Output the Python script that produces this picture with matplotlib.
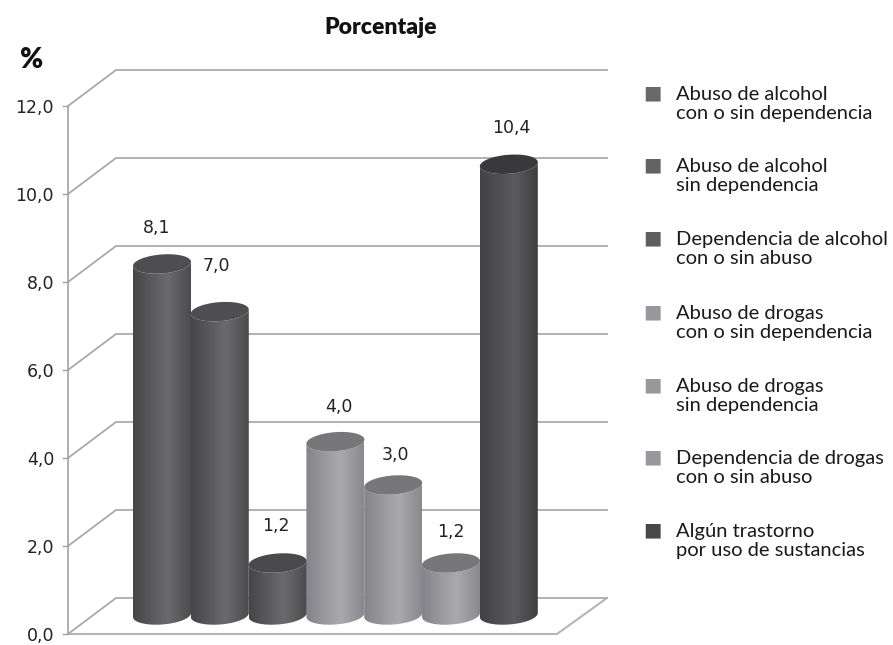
import matplotlib.pyplot as plt
import numpy as np
from matplotlib.colors import LinearSegmentedColormap
from matplotlib.patches import Polygon

plt.rcParams['font.family'] = ['Lato', 'DejaVu Sans']

values = [8.1, 7.0, 1.2, 4.0, 3.0, 1.2, 10.4]
value_labels = ['8,1', '7,0', '1,2', '4,0', '3,0', '1,2', '10,4']
ticks = [0, 2, 4, 6, 8, 10, 12]
tick_labels = ['0,0', '2,0', '4,0', '6,0', '8,0', '10,0', '12,0']
legend_labels = [
    'Abuso de alcohol\ncon o sin dependencia',
    'Abuso de alcohol\nsin dependencia',
    'Dependencia de alcohol\ncon o sin abuso',
    'Abuso de drogas\ncon o sin dependencia',
    'Abuso de drogas\nsin dependencia',
    'Dependencia de drogas\ncon o sin abuso',
    'Algún trastorno\npor uso de sustancias',
]

W, H = 893, 645
PX = 44.0  # pixels per unit on the y axis
DEPTH_X, DEPTH_Y = 48, 36 / PX
FLOOR_R = 557
GRID = '#a3a3a3'

dark = ['#464648', '#6b6b6d', '#4c4c4e']
light = ['#84848a', '#aaaaae', '#8a8a8e']
darkest = ['#424244', '#5b5b5d', '#3f3f41']
bar_grads = [dark, dark, dark, light, light, light, darkest]
top_colors = ['#4e4e50', '#4e4e50', '#4a4a4c', '#77777a', '#77777a', '#77777a', '#39393b']
legend_colors = ['#69696b', '#636365', '#5e5e60', '#98989c', '#98989c', '#98989c', '#48484a']

fig = plt.figure(figsize=(W / 100, H / 100), dpi=100)
ax = fig.add_axes([68 / W, (H - 634) / H, (W - 68) / W, 528 / H])
ax.set_xlim(68, W)
ax.set_ylim(0, 12)
for name in ['top', 'right', 'bottom']:
    ax.spines[name].set_visible(False)
ax.spines['left'].set_color(GRID)
ax.spines['left'].set_linewidth(1.2)
ax.set_xticks([])
ax.set_yticks(ticks)
ax.set_yticklabels(tick_labels, family='DejaVu Sans', fontsize=12.5, color='#222222')
ax.tick_params(axis='y', length=4, width=1, color=GRID, pad=6)

# walls and floor
for t in ticks:
    ax.plot([68, 68 + DEPTH_X, 607], [t, t + DEPTH_Y, t + DEPTH_Y], color=GRID, lw=1.2,
            clip_on=False, zorder=1)
ax.plot([68, FLOOR_R, 607], [0, 0, DEPTH_Y], color='#b5b5b5', lw=1.5, clip_on=False, zorder=1)


def arc(cx, cy, t):
    # slightly tilted ellipse, x in pixels and y in axis units
    a, b, tilt = 29, 9.5, 0.07
    x = cx + a * np.cos(t)
    y = cy + (b * np.sin(t) + tilt * a * np.cos(t)) / PX
    return np.column_stack([x, y])


base = 19 / PX
scale = 0.985
for i in range(len(values) - 1, -1, -1):
    cx = 162 + 57.8 * i
    top = base + values[i] * scale
    t_front = np.linspace(np.pi, 2 * np.pi, 60)
    t_back = np.linspace(0, np.pi, 60)
    body = np.vstack([arc(cx, base, t_front), arc(cx, top, t_front)[::-1]])
    zo = 10 + (len(values) - i) * 0.1
    clip = Polygon(body, transform=ax.transData, fc='none', ec='none')
    ax.add_patch(clip)
    cmap = LinearSegmentedColormap.from_list('bar', list(zip([0, 0.6, 1], bar_grads[i])))
    img = ax.imshow(np.linspace(0, 1, 100)[None, :], cmap=cmap, aspect='auto', zorder=zo,
                    extent=(cx - 29, cx + 29, base - 0.4, top + 0.4))
    img.set_clip_path(clip)
    ax.add_patch(Polygon(arc(cx, top, np.r_[t_front, t_back]), fc=top_colors[i], ec='none',
                         zorder=zo + 0.01))

label_dx = [-5, -3, -2, 3, 2, 0, 3]
label_dy = [36, 46, 37, 35, 30, 31, 36]
for i, lab in enumerate(value_labels):
    cx = 162 + 57.8 * i
    ax.text(cx + label_dx[i], base + values[i] * scale + label_dy[i] / PX, lab, ha='center',
            va='center', family='DejaVu Sans', fontsize=12.5, color='#222222', zorder=20)

ax.set_xlim(68, W)
ax.set_ylim(0, 12)

fig.text(381 / W, 1 - 27 / H, 'Porcentaje', ha='center', va='center', fontsize=16.5,
         fontweight='heavy', color='#111111')
fig.text(32 / W, 1 - 60 / H, '%', ha='center', va='center', fontsize=20,
         fontweight='heavy', color='#111111')

legend_y = [93, 165, 238, 312, 385, 457, 530]
for y, lab, col in zip(legend_y, legend_labels, legend_colors):
    fig.text(652 / W, 1 - y / H, '\u25a0', ha='center', va='center', fontsize=14, color=col,
             family='DejaVu Sans')
    fig.text(676 / W, 1 - (y + 11) / H, lab, ha='left', va='center', fontsize=14.5,
             color='#1a1a1a', linespacing=1.12)

fig.savefig('out.png', dpi=100)
